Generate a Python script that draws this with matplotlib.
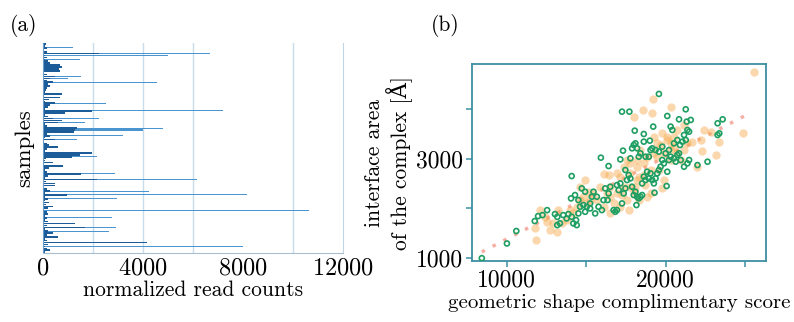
import numpy as np
import matplotlib.pyplot as plt

plt.rcParams['font.family'] = ['cmr10', 'DejaVu Serif']
plt.rcParams['axes.formatter.use_mathtext'] = True
plt.rcParams['mathtext.fontset'] = 'cm'

# ---- panel (a): read counts per sample (top row first) ----
n_samples = 110
light_idx = [2, 5, 6, 8, 17, 18, 20, 31, 35, 39, 41, 44, 45, 48, 50, 59, 68, 71, 77, 79, 81, 87, 91, 96, 98, 106]
light_val = [1190, 6700, 5000, 1480, 1510, 1020, 4570, 2530, 7190, 2230, 1680, 4810, 4010, 3210, 1350, 2150,
             2890, 6170, 4250, 8150, 2980, 10650, 2770, 2920, 2640, 8010]
dark_idx = [2, 5, 10, 11, 12, 13, 14, 17, 18, 20, 22, 26, 28, 31, 32, 35, 36, 39, 40, 41, 44, 45, 46, 48, 50,
            54, 57, 58, 59, 62, 64, 68, 71, 73, 74, 77, 79, 83, 85, 89, 94, 96, 99, 101, 104, 105, 108]
dark_val = [150, 2250, 300, 700, 750, 650, 700, 500, 300, 400, 300, 750, 700, 500, 300, 1950, 880, 400, 750, 600,
            1350, 1300, 1250, 300, 500, 600, 1950, 1480, 1150, 400, 800, 1510, 2150, 500, 500, 300, 950, 250,
            400, 200, 1280, 1680, 400, 600, 4150, 200, 300]
base_val = [120, 80, 200, 60, 150, 250, 90, 180, 100, 220, 70, 160]

# ---- panel (b): interface area vs shape complementarity ----
green_x = [8440, 10020, 10610, 11770, 11980, 12260, 12550, 13040, 13190, 13355, 13566, 13777, 13883, 14094,
           14199, 14368, 14410, 14516, 14621, 14051, 14305, 14516, 14727, 14938, 14832, 15043, 15254, 15360,
           15465, 15571, 15676, 15782, 15993, 16098, 16204, 16415, 16520, 16731, 16837, 16942, 17048, 17153,
           17259, 17364, 17470, 17575, 17681, 17786, 17892, 17997, 18103, 18208, 18314, 18419, 18525, 18630,
           18736, 18841, 18947, 19052, 19158, 19263, 19369, 19474, 19580, 19685, 19791, 19896, 20107, 20213,
           20318, 20529, 20635, 20740, 20846, 20951, 21162, 21373, 21479, 14094, 15929, 16415, 17153, 17322,
           17470, 17786, 17892, 17997, 18103, 18208, 18314, 18419, 18630, 18736, 18947, 19052, 19158, 19369,
           19580, 19791, 20002, 20213, 20529, 20740, 20909, 21058, 21268, 21373, 21479, 21331, 21584, 21162,
           22006, 22639, 23272, 23378, 23272, 23589, 20846, 20318, 20424, 20107, 19580, 17259, 17723, 18060,
           19221, 18630, 19010, 20065, 19305, 18525, 18166, 16942, 16351, 15254, 14938, 13186, 21268]
green_y = [1000, 1295, 1545, 1745, 1845, 1865, 1965, 1885, 1830, 1700, 1865, 1798, 1885, 1832, 1698, 1765,
           1664, 1899, 2033, 2201, 2268, 2167, 2402, 2335, 2067, 2033, 2100, 2234, 2335, 1899, 2234, 2033,
           1966, 2167, 2402, 2301, 2435, 1966, 1932, 2469, 2368, 2502, 2100, 2301, 2402, 2570, 2670, 2603,
           2435, 2268, 2335, 2234, 2201, 2234, 2502, 2637, 2570, 2737, 2603, 2704, 2570, 2502, 2603, 2704,
           2771, 2838, 2972, 2905, 2737, 2972, 3039, 3006, 2938, 3073, 3106, 2972, 2838, 2905, 2972, 2650,
           3019, 2851, 2985, 3160, 2771, 3006, 3207, 3274, 3307, 3207, 3039, 3106, 3341, 3039, 3039, 3173,
           3207, 3173, 3140, 3240, 3106, 3173, 3307, 3374, 3274, 3341, 3374, 3576, 3542, 3743, 3777, 3475,
           2871, 2938, 3475, 3508, 3710, 3790, 3790, 3643, 3576, 3857, 4300, 3944, 3944, 3562, 3643, 3495,
           3361, 2449, 2315, 2268, 2067, 1966, 2167, 1999, 1932, 1664, 3991]
orange_x = [25551, 19221, 20318, 18588, 19158, 17997, 24855, 23167, 22322, 22006, 23378, 20740, 21162, 20529,
            22217, 14938, 16098, 17681, 16415, 17575, 18208, 18630, 19474, 20318, 19896, 19052, 18736, 18314,
            17575, 16942, 16520, 15887, 15676, 14621, 14410, 14199, 13988, 13777, 13250, 12089, 12722, 11878,
            11773, 13144, 13461, 12511, 14832, 15043, 15254, 16520, 17259, 17364, 17786, 18103, 18208, 18630,
            18841, 19263, 19685, 20107, 20318, 20740, 20951, 19580, 19791, 17997, 17153, 16731, 16309, 15465,
            15149, 14621, 19263, 19791, 20107, 18419, 17786, 17364, 16942, 19052, 18841, 18314, 17786, 18208,
            19474, 19896, 20318, 20529, 21373, 21690, 22428, 22850, 12933, 12406, 21162, 17153, 16098, 16520]
orange_y = [4749, 4193, 4045, 3978, 3911, 3844, 3522, 3073, 3160, 2838, 3341, 3576, 3676, 3240, 3374, 2570,
            2690, 1966, 2670, 2972, 2838, 2905, 3039, 2972, 2570, 2771, 2469, 2167, 2167, 2301, 2435, 2435,
            2167, 2435, 2033, 1899, 1966, 1765, 1966, 1966, 1563, 1362, 1597, 1530, 1698, 1731, 2234, 2100,
            2167, 2234, 2268, 2435, 2435, 2435, 2570, 2670, 3039, 3106, 3274, 3374, 3173, 3106, 2972, 2771,
            2402, 2335, 2033, 2100, 2301, 2301, 2335, 2167, 3441, 3508, 3441, 3173, 2905, 2838, 2704, 2301,
            2234, 2637, 2704, 2972, 3307, 3106, 3307, 3441, 3307, 3341, 3576, 3542, 1698, 1832, 3173, 2637,
            2033, 1899]
fit_x = [8440, 25280]
fit_y = [1125, 3910]

light = np.zeros(n_samples)
dark = np.array([base_val[i % len(base_val)] for i in range(n_samples)], dtype=float)
light[light_idx] = light_val
dark[dark_idx] = dark_val
rows = np.arange(n_samples)

fig = plt.figure(figsize=(7.94, 3.22), dpi=100)

# (a)
ax1 = fig.add_axes([0.054, 0.214, 0.378, 0.652])
ax1.barh(rows, light, height=0.55, color='#4a94cf', linewidth=0)
ax1.barh(rows, dark, height=0.85, color='#1c5c98', linewidth=0)
ax1.set_ylim(n_samples - 0.5, -0.5)
ax1.set_xlim(0, 12000)
ax1.set_xticks([0, 4000, 8000, 12000])
ax1.set_yticks([])
for g in [2000, 4000, 6000, 10000]:
    ax1.axvline(g, color='#c9dcea', lw=1, zorder=0)
ax1.tick_params(axis='x', length=0, labelsize=17.5, pad=3)
ax1.spines['top'].set_visible(False)
ax1.spines['left'].set_color('#6a9cc8')
ax1.spines['bottom'].set_color('#a9bfd0')
ax1.spines['right'].set_color('#c2d4e2')
ax1.set_xlabel('normalized read counts', fontsize=15.5, labelpad=1)
ax1.set_ylabel('samples', fontsize=16.5, labelpad=6)
fig.text(0.013, 0.905, '(a)', fontsize=15.5)

# (b)
ax2 = fig.add_axes([0.594, 0.189, 0.371, 0.612])
ax2.plot(fit_x, fit_y, linestyle=(0, (1, 2.5)), color='#f07a68', lw=2.5, alpha=0.6, zorder=1)
ax2.scatter(orange_x, orange_y, s=36, color='#f7a84a', alpha=0.45, linewidths=0, zorder=2)
ax2.scatter(green_x, green_y, s=13, facecolors='none', edgecolors='#1f9e62', linewidths=1.2, zorder=3)
ax2.set_xlim(7800, 26330)
ax2.set_ylim(940, 4900)
ax2.set_xticks([10000, 15000, 20000, 25000])
ax2.set_xticklabels(['10000', '', '20000', ''])
ax2.set_yticks([1000, 2000, 3000, 4000])
ax2.set_yticklabels(['1000', '', '3000', ''])
for s in ax2.spines.values():
    s.set_color('#3d8fa3')
    s.set_linewidth(1.3)
ax2.tick_params(direction='out', length=4, width=1.1, color='#3d8fa3', labelsize=17, pad=2)
ax2.set_xlabel('geometric shape complimentary score', fontsize=15, labelpad=2)
ax2.set_ylabel('interface area\nof the complex [Å]', fontsize=15.5, labelpad=2, linespacing=1.1)
fig.text(0.543, 0.905, '(b)', fontsize=15.5)

fig.savefig('out.png', dpi=100)
